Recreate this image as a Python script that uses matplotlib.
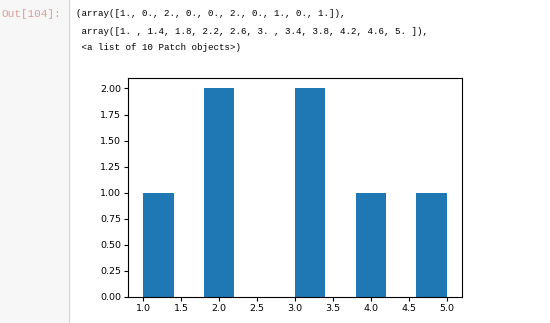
import numpy as np
import matplotlib.pyplot as plt
from matplotlib.lines import Line2D
from matplotlib.patches import Rectangle

counts = [1., 0., 2., 0., 0., 2., 0., 1., 0., 1.]
edges = [1., 1.4, 1.8, 2.2, 2.6, 3., 3.4, 3.8, 4.2, 4.6, 5.]

out_label = 'Out[104]:'
out_lines = ['(array([1., 0., 2., 0., 0., 2., 0., 1., 0., 1.]),',
             ' array([1. , 1.4, 1.8, 2.2, 2.6, 3. , 3.4, 3.8, 4.2, 4.6, 5. ]),',
             ' <a list of 10 Patch objects>)']

fig = plt.figure(figsize=(5.5, 3.23), dpi=100, facecolor='w')

# notebook gutter
fig.patches.append(Rectangle((0, 0), 68/550, 1, transform=fig.transFigure,
                             facecolor='#f7f7f7', edgecolor='none', zorder=0))
fig.add_artist(Line2D([68.5/550, 68.5/550], [0, 1], transform=fig.transFigure,
                      color='#d6d6d6', lw=1))

fig.text(2/550, 1-14/323, out_label, family='Liberation Mono', fontsize=8,
         color='#d8a09a', va='center', ha='left')
for i, s in enumerate(out_lines):
    fig.text(76/550, 1-(14+17*i)/323, s, family='Liberation Mono', fontsize=6.6,
             color='black', va='center', ha='left')

ax = fig.add_axes([128/550, 1-297/323, (462-128)/550, (297-78)/323])
widths = np.diff(edges)
ax.bar(edges[:-1], counts, width=widths, align='edge', color='#1f77b4')
ax.set_xlim(0.8, 5.2)
ax.set_ylim(0, 2.1)
ax.set_xticks([1.0, 1.5, 2.0, 2.5, 3.0, 3.5, 4.0, 4.5, 5.0])
ax.set_yticks([0, 0.25, 0.5, 0.75, 1.0, 1.25, 1.5, 1.75, 2.0])
ax.set_yticklabels(['%.2f' % v for v in ax.get_yticks()])
ax.tick_params(labelsize=6.8, length=3, width=0.8, pad=2)
for sp in ax.spines.values():
    sp.set_linewidth(0.8)

plt.savefig('out.png', dpi=100)
